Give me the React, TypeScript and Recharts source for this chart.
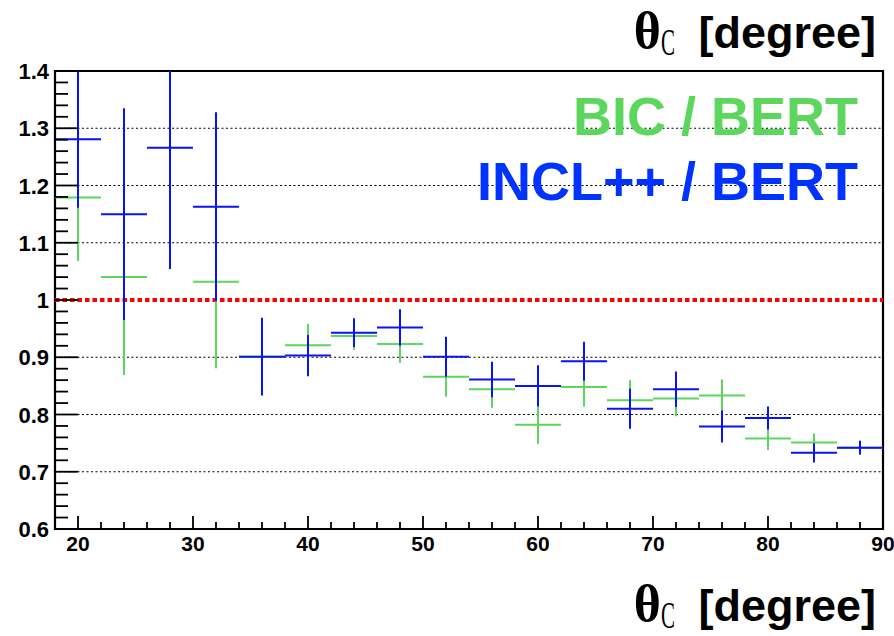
import {
  ComposedChart,
  Scatter,
  ErrorBar,
  XAxis,
  YAxis,
  ReferenceLine,
  ReferenceArea,
} from "recharts";

// 4-degree bins in theta_C, ratios of the model predictions to BERT
const BIN_CENTERS = [20, 24, 28, 32, 36, 40, 44, 48, 52, 56, 60, 64, 68, 72, 76, 80, 84, 88];
const BIN_HALF_WIDTH = 2;

const INCL_RATIO = [1.281, 1.15, 1.266, 1.163, 0.901, 0.903, 0.943, 0.952, 0.901, 0.861, 0.85, 0.893, 0.81, 0.844, 0.779, 0.794, 0.733, 0.742];
const INCL_ERR = [0.12, 0.185, 0.212, 0.165, 0.068, 0.036, 0.025, 0.032, 0.035, 0.031, 0.036, 0.034, 0.035, 0.031, 0.028, 0.02, 0.017, 0.012];

// bin at 28 lies outside the plotted range
const BIC_RATIO = [1.179, 1.04, null, 1.032, 0.901, 0.921, 0.937, 0.923, 0.866, 0.844, 0.782, 0.848, 0.825, 0.828, 0.833, 0.758, 0.751, 0.742];
const BIC_ERR = [0.111, 0.171, null, 0.151, 0.06, 0.037, 0.024, 0.033, 0.035, 0.032, 0.033, 0.034, 0.035, 0.031, 0.028, 0.02, 0.016, 0.012];

const X_MAJOR = [20, 30, 40, 50, 60, 70, 80, 90];
const X_TICKS = [18, 20, 22, 24, 26, 28, 30, 32, 34, 36, 38, 40, 42, 44, 46, 48, 50, 52, 54, 56, 58, 60, 62, 64, 66, 68, 70, 72, 74, 76, 78, 80, 82, 84, 86, 88, 90];

const Y_MAJOR = [0.6, 0.7, 0.8, 0.9, 1.0, 1.1, 1.2, 1.3, 1.4];
const Y_LABELS = ["0.6", "0.7", "0.8", "0.9", "1", "1.1", "1.2", "1.3", "1.4"];
const Y_GRID = [0.7, 0.8, 0.9, 1.1, 1.2, 1.3];
// five minor divisions between labelled ticks
const Y_TICKS = Y_MAJOR.slice(0, -1)
  .flatMap((v) => [0, 1, 2, 3, 4].map((k) => Math.round((v + k * 0.02) * 100) / 100))
  .concat([1.4]);

const GREEN = "#5cd65c";
const BLUE = "#0a14f0";
const FONT = "'Liberation Sans', Arial, Helvetica, sans-serif";
const SERIF = "'Liberation Serif', 'Times New Roman', serif";

// plot frame in pixels, used to clip the error bars at the axis range
const PLOT = { left: 55, top: 71, right: 883, bottom: 529 };

const toPoints = (vals: (number | null)[], errs: (number | null)[]) =>
  BIN_CENTERS.map((x, i) => ({ x, y: vals[i], ex: BIN_HALF_WIDTH, ey: errs[i] })).filter(
    (p) => p.y != null
  );

const bicPoints = toPoints(BIC_RATIO, BIC_ERR);
const inclPoints = toPoints(INCL_RATIO, INCL_ERR);

function XTick(props: any) {
  const { x, y, payload } = props;
  const major = X_MAJOR.includes(payload.value);
  return (
    <g>
      <line x1={x} x2={x} y1={y} y2={y - (major ? 13 : 7)} stroke="#000" strokeWidth={1.8} />
      {major && (
        <text x={x} y={y + 22} textAnchor="middle" fontFamily={FONT} fontWeight="bold" fontSize={21} fill="#000">
          {payload.value}
        </text>
      )}
    </g>
  );
}

function YTick(props: any) {
  const { x, y, payload } = props;
  const idx = Y_MAJOR.findIndex((m) => Math.abs(m - payload.value) < 1e-6);
  const major = idx >= 0;
  return (
    <g>
      <line x1={x} x2={x + (major ? 23 : 13)} y1={y} y2={y} stroke="#000" strokeWidth={1.8} />
      {major && (
        <text x={x - 6} y={y + 8} textAnchor="end" fontFamily={FONT} fontWeight="bold" fontSize={22} fill="#000">
          {Y_LABELS[idx]}
        </text>
      )}
    </g>
  );
}

// theta_C [degree] with a narrow serif subscript
function AxisTitle({ baseline }: { baseline: number }) {
  return (
    <g>
      <text x={661} y={baseline} textAnchor="end" fontFamily={SERIF} fontWeight="bold" fontSize={52} fill="#000">
        θ
      </text>
      <text
        transform={`translate(661, ${baseline + 7}) scale(0.55, 1)`}
        fontFamily={SERIF}
        fontSize={38}
        fill="#000"
      >
        C
      </text>
      <text x={876} y={baseline} textAnchor="end" fontFamily={FONT} fontWeight="bold" fontSize={45} fill="#000">
        [degree]
      </text>
    </g>
  );
}

export default function App() {
  return (
    <div style={{ position: "relative", width: 894, height: 636, background: "#fff" }}>
      <style>{"body { margin: 0; } .recharts-errorBar { clip-path: url(#plot-area); }"}</style>
      <ComposedChart width={894} height={636} margin={{ top: 71, right: 11, bottom: 77, left: 0 }}>
        <XAxis
          type="number"
          dataKey="x"
          domain={[18, 90]}
          allowDataOverflow
          ticks={X_TICKS}
          interval={0}
          tickSize={0}
          tickMargin={0}
          axisLine={false}
          tickLine={false}
          tick={XTick}
          height={30}
        />
        <YAxis
          type="number"
          domain={[0.6, 1.4]}
          allowDataOverflow
          ticks={Y_TICKS}
          interval={0}
          tickSize={0}
          tickMargin={0}
          axisLine={false}
          tickLine={false}
          tick={YTick}
          width={55}
        />
        {Y_GRID.map((v) => (
          <ReferenceLine key={v} y={v} stroke="#000" strokeWidth={1.2} strokeDasharray="2 2.5" />
        ))}
        <ReferenceLine y={1} stroke="#ff0000" strokeWidth={4} strokeDasharray="4.5 3" />
        <Scatter data={bicPoints} dataKey="y" shape={() => <g />} isAnimationActive={false}>
          <ErrorBar dataKey="ex" direction="x" width={0} stroke={GREEN} strokeWidth={2} />
          <ErrorBar dataKey="ey" direction="y" width={0} stroke={GREEN} strokeWidth={2} />
        </Scatter>
        <Scatter data={inclPoints} dataKey="y" shape={() => <g />} isAnimationActive={false}>
          <ErrorBar dataKey="ex" direction="x" width={0} stroke={BLUE} strokeWidth={2} />
          <ErrorBar dataKey="ey" direction="y" width={0} stroke={BLUE} strokeWidth={2} />
        </Scatter>
        <ReferenceArea x1={18} x2={90} y1={0.6} y2={1.4} fill="none" stroke="#000" strokeWidth={2.2} />
      </ComposedChart>
      <svg
        width={894}
        height={636}
        style={{ position: "absolute", left: 0, top: 0, pointerEvents: "none" }}
      >
        <defs>
          <clipPath id="plot-area" clipPathUnits="userSpaceOnUse">
            <rect
              x={PLOT.left}
              y={PLOT.top}
              width={PLOT.right - PLOT.left}
              height={PLOT.bottom - PLOT.top}
            />
          </clipPath>
        </defs>
        <AxisTitle baseline={48} />
        <AxisTitle baseline={621} />
        <text x={858} y={135} textAnchor="end" fontFamily={FONT} fontWeight="bold" fontSize={54} fill={GREEN}>
          BIC / BERT
        </text>
        <text x={858} y={200} textAnchor="end" fontFamily={FONT} fontWeight="bold" fontSize={54} fill="#0033ff">
          INCL++ / BERT
        </text>
      </svg>
    </div>
  );
}
